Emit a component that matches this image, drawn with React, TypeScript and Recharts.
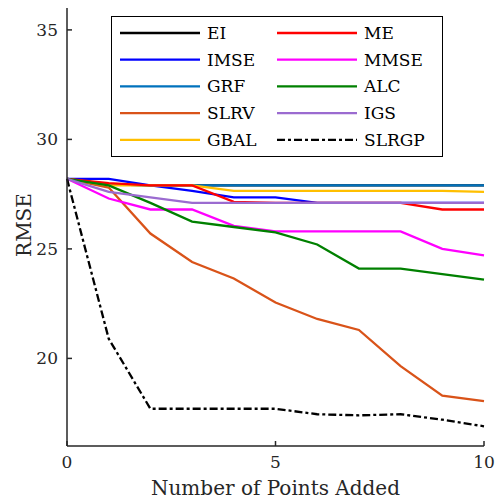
import { Line, LineChart, XAxis, YAxis } from "recharts";

const pointsAdded = [0, 1, 2, 3, 4, 5, 6, 7, 8, 9, 10];

const ei = [28.2, 27.95, 27.9, 27.9, 27.9, 27.9, 27.9, 27.9, 27.9, 27.9, 27.9];
const imse = [28.2, 28.2, 27.9, 27.65, 27.35, 27.35, 27.1, 27.1, 27.1, 27.1, 27.1];
const grf = [28.2, 27.95, 27.9, 27.9, 27.9, 27.9, 27.9, 27.9, 27.9, 27.9, 27.9];
const slrv = [28.2, 27.8, 25.7, 24.4, 23.65, 22.55, 21.8, 21.3, 19.65, 18.3, 18.05];
const gbal = [28.2, 27.9, 27.9, 27.9, 27.65, 27.65, 27.65, 27.65, 27.65, 27.65, 27.6];
const me = [28.2, 28.0, 27.9, 27.9, 27.15, 27.1, 27.1, 27.1, 27.1, 26.8, 26.8];
const mmse = [28.2, 27.3, 26.8, 26.8, 26.05, 25.8, 25.8, 25.8, 25.8, 25.0, 24.7];
const alc = [28.2, 27.9, 27.1, 26.25, 26.0, 25.75, 25.2, 24.1, 24.1, 23.85, 23.6];
const igs = [28.2, 27.6, 27.35, 27.1, 27.1, 27.1, 27.1, 27.1, 27.1, 27.1, 27.1];
const slrgp = [28.2, 20.9, 17.7, 17.7, 17.7, 17.7, 17.45, 17.4, 17.45, 17.2, 16.9];

const xTicks = [0, 5, 10];
const yTicks = [20, 25, 30, 35];

const series = [
  { name: "EI", values: ei, color: "#000000", dash: undefined },
  { name: "IMSE", values: imse, color: "#0000FF", dash: undefined },
  { name: "GRF", values: grf, color: "#0072BD", dash: undefined },
  { name: "SLRV", values: slrv, color: "#D95319", dash: undefined },
  { name: "GBAL", values: gbal, color: "#FFBF00", dash: undefined },
  { name: "ME", values: me, color: "#FF0000", dash: undefined },
  { name: "MMSE", values: mmse, color: "#FF00FF", dash: undefined },
  { name: "ALC", values: alc, color: "#008000", dash: undefined },
  { name: "IGS", values: igs, color: "#9B6BD0", dash: undefined },
  { name: "SLRGP", values: slrgp, color: "#000000", dash: "8 3 3 3" },
];

const data = pointsAdded.map((x, i) => {
  const row: Record<string, number> = { x };
  series.forEach((s) => (row[s.name] = s.values[i]));
  return row;
});

const FONT = "'DejaVu Serif', serif";
const AXIS = "#262626";

function BottomTick({ x, y, payload }: any) {
  return (
    <g>
      <line x1={x} y1={y} x2={x} y2={y - 5} stroke={AXIS} strokeWidth={1.5} />
      <text x={x} y={y + 16} textAnchor="middle" dominantBaseline="central" fill={AXIS} fontFamily={FONT} fontSize={17}>
        {payload.value}
      </text>
    </g>
  );
}

function TopTick({ x, y }: any) {
  return <line x1={x} y1={y} x2={x} y2={y + 5} stroke={AXIS} strokeWidth={1.5} />;
}

function LeftTick({ x, y, payload }: any) {
  return (
    <g>
      <line x1={x} y1={y} x2={x + 5} y2={y} stroke={AXIS} strokeWidth={1.5} />
      <text x={x - 9} y={y} textAnchor="end" dominantBaseline="central" fill={AXIS} fontFamily={FONT} fontSize={17}>
        {payload.value}
      </text>
    </g>
  );
}

function RightTick({ x, y }: any) {
  return <line x1={x} y1={y} x2={x - 5} y2={y} stroke={AXIS} strokeWidth={1.5} />;
}

function LegendBox() {
  return (
    <div
      style={{
        position: "absolute",
        left: 111,
        top: 16,
        width: 332,
        height: 141,
        border: "1.5px solid #000",
        boxSizing: "border-box",
        background: "#fff",
      }}
    >
      <svg width={329} height={138}>
        {series.map((s, i) => {
          const col = i < 5 ? 0 : 1;
          const row = i % 5;
          const lx = col === 0 ? 8 : 165;
          const ly = 16 + row * 26.7;
          return (
            <g key={s.name}>
              <line x1={lx} y1={ly} x2={lx + 80} y2={ly} stroke={s.color} strokeWidth={2.3} strokeDasharray={s.dash} />
              <text x={lx + 87} y={ly} dominantBaseline="central" fontFamily={FONT} fontSize={17} fill="#000">
                {s.name}
              </text>
            </g>
          );
        })}
      </svg>
    </div>
  );
}

export default function App() {
  return (
    <div style={{ position: "absolute", left: 0, top: 0, width: 499, height: 502, background: "#fff" }}>
      <LineChart width={499} height={502} data={data} margin={{ top: 8, right: 15, bottom: 16, left: 7 }}>
        <XAxis
          dataKey="x"
          type="number"
          domain={[0, 10]}
          ticks={xTicks}
          tickSize={0}
          tickMargin={0}
          tickLine={false}
          tick={<BottomTick />}
          height={40}
          axisLine={{ stroke: AXIS, strokeWidth: 1.5 }}
          label={{
            content: ({ viewBox }: any) => (
              <text
                x={viewBox.x + viewBox.width / 2}
                y={viewBox.y + 42}
                textAnchor="middle"
                dominantBaseline="central"
                fill={AXIS}
                fontFamily={FONT}
                fontSize={20}
              >
                Number of Points Added
              </text>
            ),
          }}
        />
        <XAxis
          xAxisId="top"
          orientation="top"
          dataKey="x"
          type="number"
          domain={[0, 10]}
          ticks={xTicks}
          tickSize={0}
          tickMargin={0}
          tickLine={false}
          tick={<TopTick />}
          height={0}
          axisLine={{ stroke: AXIS, strokeWidth: 1.5 }}
        />
        <YAxis
          type="number"
          domain={[16, 36]}
          ticks={yTicks}
          tickSize={0}
          tickMargin={0}
          tickLine={false}
          tick={<LeftTick />}
          width={60}
          axisLine={{ stroke: AXIS, strokeWidth: 1.5 }}
          label={{
            content: ({ viewBox }: any) => {
              const cx = viewBox.x + 17;
              const cy = viewBox.y + viewBox.height / 2 - 2;
              return (
                <text
                  x={cx}
                  y={cy}
                  transform={`rotate(-90, ${cx}, ${cy})`}
                  textAnchor="middle"
                  dominantBaseline="central"
                  fill={AXIS}
                  fontFamily={FONT}
                  fontSize={20}
                >
                  RMSE
                </text>
              );
            },
          }}
        />
        <YAxis
          yAxisId="right"
          orientation="right"
          type="number"
          domain={[16, 36]}
          ticks={yTicks}
          tickSize={0}
          tickMargin={0}
          tickLine={false}
          tick={<RightTick />}
          width={0}
          axisLine={{ stroke: AXIS, strokeWidth: 1.5 }}
        />
        {series.map((s) => (
          <Line
            key={s.name}
            dataKey={s.name}
            stroke={s.color}
            strokeWidth={2.3}
            strokeDasharray={s.dash}
            dot={false}
            isAnimationActive={false}
          />
        ))}
      </LineChart>
      <LegendBox />
    </div>
  );
}
